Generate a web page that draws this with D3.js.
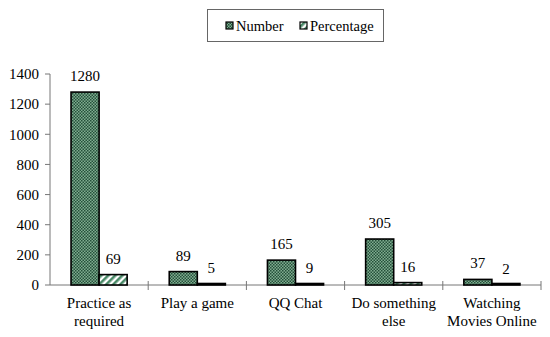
<!DOCTYPE html>
<html><head><meta charset="utf-8">
<script src="https://cdn.jsdelivr.net/npm/d3@7"></script>
<style>body{margin:0;background:#fff}svg{display:block}</style>
</head><body><svg id="c" width="550" height="337"></svg>
<script>
const categories = [["Practice as","required"],["Play a game"],["QQ Chat"],["Do something","else"],["Watching","Movies Online"]];
const numberValues = [1280, 89, 165, 305, 37];
const percentValues = [69, 5, 9, 16, 2];
const seriesNames = ["Number","Percentage"];
const yTicks = [0,200,400,600,800,1000,1200,1400];
const FONT = "Liberation Serif";

const svg = d3.select("#c");
const defs = svg.append("defs");
const p1 = defs.append("pattern").attr("id","chk").attr("patternUnits","userSpaceOnUse").attr("width",3).attr("height",3);
p1.append("rect").attr("width",3).attr("height",3).attr("fill","#80ad90");
p1.append("rect").attr("width",1.5).attr("height",1.5).attr("fill","#24503a");
p1.append("rect").attr("x",1.5).attr("y",1.5).attr("width",1.5).attr("height",1.5).attr("fill","#24503a");
const p2 = defs.append("pattern").attr("id","hat").attr("patternUnits","userSpaceOnUse").attr("width",5).attr("height",5).attr("patternTransform","rotate(45)");
p2.append("rect").attr("width",5).attr("height",5).attr("fill","#ffffff");
p2.append("rect").attr("width",2.6).attr("height",5).attr("fill","#4a8a68");

const x = d3.scaleBand().domain(d3.range(categories.length)).range([50,541]).paddingInner(0).paddingOuter(0);
const y = d3.scaleLinear().domain([0,1400]).range([285,74]);
const inner = d3.scaleBand().domain([0,1]).range([0,x.bandwidth()]).paddingInner(0).paddingOuter(0.75);

const g = svg.append("g");
g.append("line").attr("x1",50).attr("x2",50).attr("y1",y(1400)).attr("y2",y(0)).attr("stroke","#777").attr("stroke-width",1);
g.append("line").attr("x1",50).attr("x2",541).attr("y1",y(0)).attr("y2",y(0)).attr("stroke","#777").attr("stroke-width",1);
yTicks.forEach(t=>{
  g.append("line").attr("x1",45).attr("x2",50).attr("y1",y(t)).attr("y2",y(t)).attr("stroke","#777");
  g.append("text").attr("font-family",FONT).attr("x",39).attr("y",y(t)).attr("dy","0.35em").attr("text-anchor","end").attr("font-size",15).text(t);
});
d3.range(1, categories.length+1).forEach(i=>{
  const xx = i<categories.length ? x(i) : x(categories.length-1)+x.bandwidth();
  g.append("line").attr("x1",xx).attr("x2",xx).attr("y1",y(0)-4).attr("y2",y(0)+5).attr("stroke","#777");
});

const series = [numberValues, percentValues];
const fills = ["url(#chk)","url(#hat)"];
series.forEach((vals,si)=>{
  vals.forEach((v,i)=>{
    const bx = x(i)+inner(si), bw = inner.bandwidth();
    const h = Math.max(y(0)-y(v), 1.5);
    svg.append("rect").attr("x",bx).attr("y",y(0)-h).attr("width",bw).attr("height",h)
      .attr("fill",fills[si]).attr("stroke","#000").attr("stroke-width",1.6);
    svg.append("text").attr("font-family",FONT).attr("x",bx+bw/2).attr("y",y(v)-11).attr("text-anchor","middle").attr("font-size",15).text(v);
  });
});

categories.forEach((lines,i)=>{
  const t = svg.append("text").attr("font-family",FONT).attr("x",x(i)+x.bandwidth()/2).attr("y",308).attr("text-anchor","middle").attr("font-size",15);
  lines.forEach((l,k)=>t.append("tspan").attr("x",x(i)+x.bandwidth()/2).attr("dy",k?17.5:0).text(l));
});

const lg = svg.append("g");
lg.append("rect").attr("x",207.5).attr("y",9.5).attr("width",176).attr("height",32).attr("fill","#fff").attr("stroke","#666");
const lx = [226, 300];
seriesNames.forEach((n,i)=>{
  lg.append("rect").attr("x",lx[i]).attr("y",22).attr("width",7).attr("height",7).attr("fill",fills[i]).attr("stroke","#000").attr("stroke-width",1.2);
  lg.append("text").attr("font-family",FONT).attr("x",lx[i]+10).attr("y",26).attr("dy","0.35em").attr("font-size",14.5).text(n);
});
</script></body></html>
